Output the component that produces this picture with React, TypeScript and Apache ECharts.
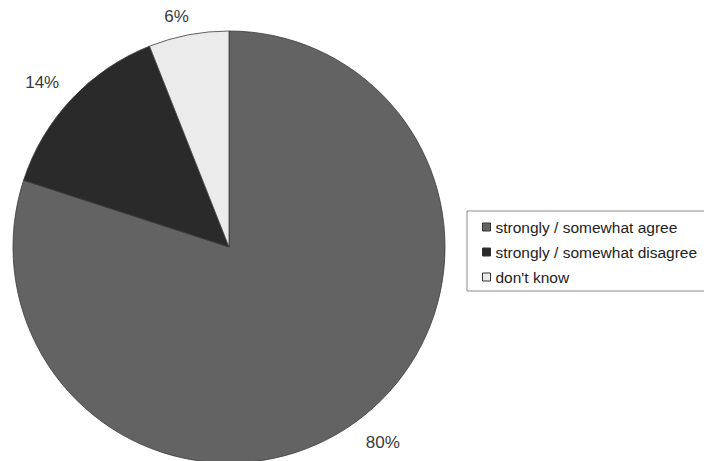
import React, { useEffect, useRef } from "react";
import * as echarts from "echarts";

const categories = [
  "strongly / somewhat agree",
  "strongly / somewhat disagree",
  "don't know",
];
const values = [80, 14, 6];

const sliceColors = ["#636363", "#2a2a2a", "#ebebeb"];
const labelOffsets = [
  [8, -5],
  [-6, 5],
  [-6, 13],
];

export default function App() {
  const ref = useRef<HTMLDivElement>(null);
  useEffect(() => {
    document.body.style.margin = "0";
    if (!ref.current) return;
    const chart = echarts.init(ref.current, null, { renderer: "svg" });
    const center = [229, 247];
    chart.setOption({
      animation: false,
      backgroundColor: "#ffffff",
      legend: {
        orient: "vertical",
        left: 467,
        top: 211,
        padding: [8, 60, 6, 15],
        itemGap: 9,
        itemWidth: 8,
        itemHeight: 8,
        icon: "rect",
        borderColor: "#8a8a8a",
        borderWidth: 1,
        borderRadius: 0,
        selectedMode: false,
        data: categories,
        itemStyle: { borderColor: "#333", borderWidth: 1 },
        textStyle: {
          fontFamily: "Liberation Sans, Arial, sans-serif",
          fontSize: 15.5,
          color: "#222",
          lineHeight: 15.5,
        },
      },
      series: [
        {
          type: "pie",
          center,
          radius: 216,
          startAngle: 90,
          clockwise: true,
          silent: true,
          label: { show: false },
          labelLine: { show: false },
          itemStyle: { borderColor: "#3a3a3a", borderWidth: 0.8 },
          data: categories.map((name, i) => ({
            name,
            value: values[i],
            itemStyle: { color: sliceColors[i] },
          })),
        },
        {
          type: "pie",
          center,
          radius: [232, 258],
          startAngle: 90,
          clockwise: true,
          silent: true,
          itemStyle: { color: "rgba(0,0,0,0)" },
          labelLine: { show: false },
          label: {
            show: true,
            position: "inside",
            formatter: "{c}%",
            fontFamily: "Liberation Sans, Arial, sans-serif",
            fontSize: 17,
            color: "#3a3a3a",
          },
          data: categories.map((name, i) => ({
            name,
            value: values[i],
            label: { offset: labelOffsets[i] },
          })),
        },
      ],
    });
    return () => chart.dispose();
  }, []);
  return <div ref={ref} style={{ width: 704, height: 461 }} />;
}
